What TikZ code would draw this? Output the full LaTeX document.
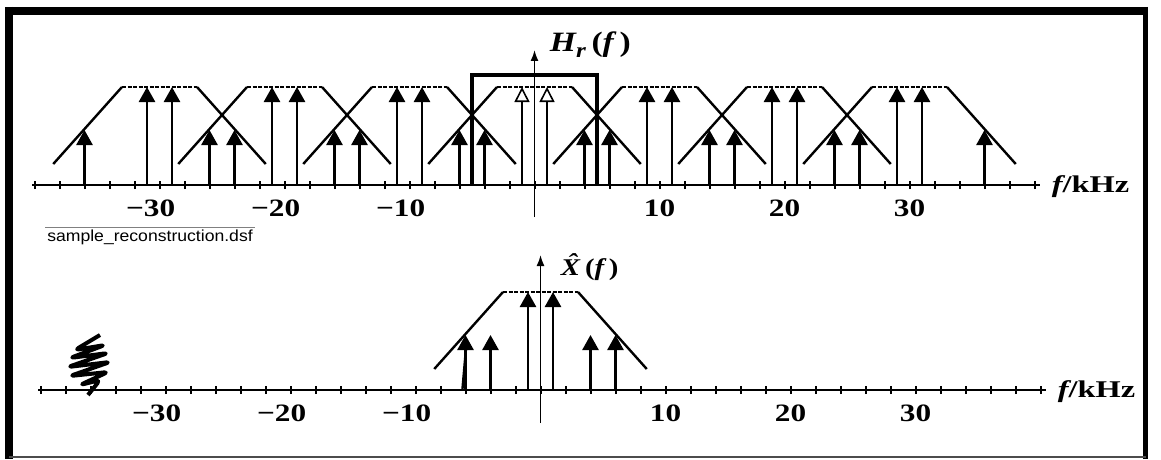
\documentclass[tikz,border=0pt]{standalone}
\usepackage{fontspec}
\setmainfont{Liberation Serif}
\setsansfont{Liberation Sans}
\usetikzlibrary{arrows.meta}

\begin{document}
\begin{tikzpicture}[
    x=1pt, y=1pt,
    ax/.style={line width=2.4pt},
    tk/.style={line width=2pt},
    edge/.style={line width=2.4pt},
    flat/.style={line width=2.4pt, dash pattern=on 4pt off 1.5pt},
    imp/.style={line width=2.6pt, -{Triangle[length=15pt, width=16pt]}},
    himp/.style={line width=2.4pt, -{Triangle[length=15pt, width=15pt, fill=white, line width=1.6pt]}},
    yax/.style={line width=1.6pt, -{Latex[length=11pt, width=8pt]}},
    num/.style={font=\fontsize{25}{25}\selectfont\bfseries, xscale=1.25},
    unit/.style={font=\fontsize{24}{24}\selectfont\bfseries, xscale=1.35, anchor=west},
    fname/.style={xscale=1.2, anchor=west}
]
\useasboundingbox (0,0) rectangle (1161,459);

% frame
\draw[line width=8pt] (5,448) -- (1148,448);
\draw[line width=8pt] (9,452) -- (9,0);
\draw[line width=5pt] (1145.5,452) -- (1145.5,0);
\draw[line width=2pt, black!70] (9,2) -- (1145.5,2);

% file name
\draw[line width=1pt, gray] (45,232) -- (255,232);
\node[font=\fontsize{16}{16}\sffamily, xscale=1.1] (file) at (150,222) {sample\_reconstruction.dsf};

% top: sampled spectrum and reconstruction filter
\begin{scope}[shift={(534.5,274)}, x=12.5pt]
  \draw[ax] (-40.2,0) -- (40.4,0);
  \foreach \k in {-40,-38,...,40} \draw[tk] (\k,-4) -- (\k,4);
  \foreach \c in {-30,-20,...,30} {
    \draw[edge] (\c-8.5,21) -- (\c-3,98);
    \draw[flat] (\c-3,98) -- (\c+3,98);
    \draw[edge] (\c+3,98) -- (\c+8.5,21);
    \draw[imp] (\c-6,0) -- (\c-6,55);
    \draw[imp] (\c+6,0) -- (\c+6,55);
    \ifnum\c=0
      \draw[himp] (\c-1,0) -- (\c-1,98);
      \draw[himp] (\c+1,0) -- (\c+1,98);
    \else
      \draw[imp] (\c-1,0) -- (\c-1,98);
      \draw[imp] (\c+1,0) -- (\c+1,98);
    \fi
  }
  \draw[line width=3.5pt] (-5,0) -- (-5,110) -- (5,110) -- (5,0);
  \draw[yax] (0,-32) -- (0,135);
  \node[fname, font=\fontsize{28}{28}\selectfont\bfseries\itshape] (hr) at (0.9,140)
    {H\raisebox{-0.4ex}{\fontsize{21}{21}\selectfont r}\,\upshape(\itshape f\,\upshape)};
  \foreach \k/\t in {-30/{\llap{−}30}, -20/{\llap{−}20}, -10/{\llap{−}10}, 10/10, 20/20, 30/30}
    \node[num] (ht\k) at (\k,-23) {\t};
  \node[unit] (hf) at (41,-2) {\itshape f\upshape/kHz};
\end{scope}

% bottom: reconstructed spectrum
\begin{scope}[shift={(540.5,69)}, x=12.5pt]
  \draw[ax] (-40.2,0) -- (40.4,0);
  \foreach \k in {-40,-38,...,40} \draw[tk] (\k,-4) -- (\k,4);
  \draw[edge] (-8.5,21) -- (-3,98);
  \draw[flat] (-3,98) -- (3,98);
  \draw[edge] (3,98) -- (8.5,21);
  \foreach \f/\h in {-6/55, -4/55, -1/98, 1/98, 4/55, 6/55}
    \draw[imp] (\f,0) -- (\f,\h);
  \draw[line width=2.4pt] (-6.25,0) -- (-5.9,50);
  \draw[yax] (0,-33) -- (0,135);
  \node[fname, font=\fontsize{24}{24}\selectfont\bfseries\itshape] (xh) at (1.3,123)
    {\accent"02C6 X\upshape\,(\itshape f\,\upshape)};
  \foreach \k/\t in {-30/{\llap{−}30}, -20/{\llap{−}20}, -10/{\llap{−}10}, 10/10, 20/20, 30/30}
    \node[num] (xt\k) at (\k,-23) {\t};
  \node[unit] (xf) at (41,-2) {\itshape f\upshape/kHz};
\end{scope}

% scribble
\draw[line width=4pt, line join=round, rounded corners=4pt]
  (100,124) -- (75,109) -- (105,114) -- (70,101) -- (108,106) -- (68,92)
  -- (110,97) -- (70,83) -- (108,87) -- (80,74) -- (100,79) -- (88,64);
\end{tikzpicture}
\end{document}
